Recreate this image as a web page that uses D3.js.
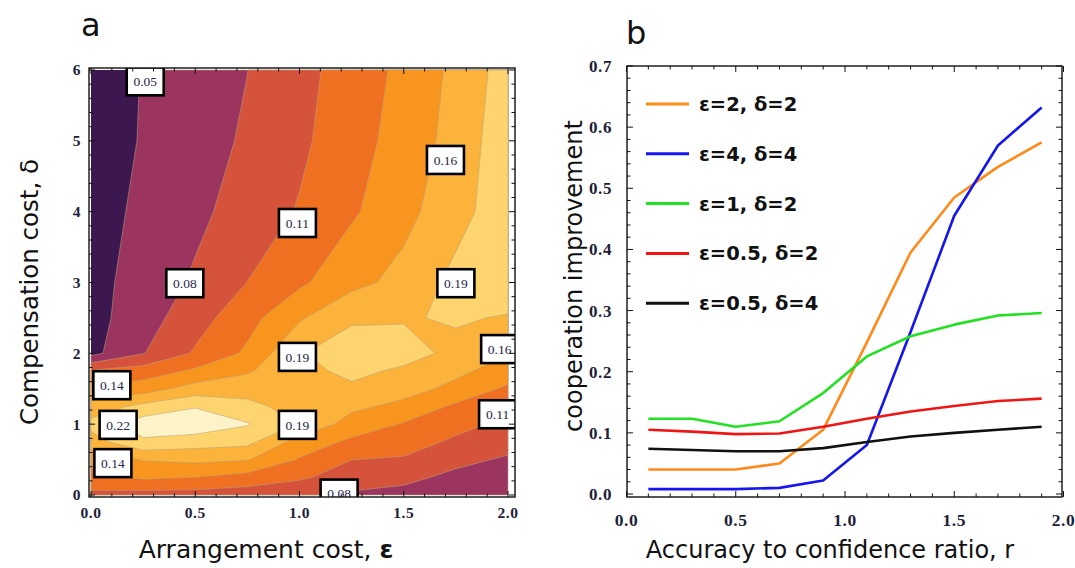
<!DOCTYPE html>
<html>
<head>
<meta charset="utf-8">
<script src="https://cdn.jsdelivr.net/npm/d3@7"></script>
<style>
  body { margin: 0; background: #fff; }
  svg { display: block; }
  .tick-label { font-family: 'Liberation Serif', 'DejaVu Serif', serif; font-weight: bold; fill: #1e1e3a; letter-spacing: 0.6px; }
  .title { font-family: 'DejaVu Sans', sans-serif; fill: #111; }
  .legend-text { font-family: 'DejaVu Sans', sans-serif; font-weight: bold; fill: #111; }
  .contour-label { font-family: 'Liberation Serif', serif; fill: #24244a; }
</style>
</head>
<body>
<svg id="chart" width="1075" height="568"></svg>
<script>
// panel a: grid of cooperation improvement over arrangement cost (cols) and compensation cost (rows)
const arrangementCosts = [0, 0.25, 0.5, 0.75, 1, 1.25, 1.5, 1.75, 2]
const compensationCosts = [0, 0.25, 0.5, 0.75, 1, 1.25, 1.5, 1.75, 2, 2.5, 3, 4, 5, 6]
const improvementGrid = [
  [0.100, 0.095, 0.095, 0.090, 0.080, 0.075, 0.070, 0.060, 0.065],
  [0.125, 0.140, 0.135, 0.125, 0.112, 0.090, 0.085, 0.072, 0.070],
  [0.145, 0.165, 0.170, 0.165, 0.133, 0.107, 0.104, 0.085, 0.075],
  [0.180, 0.215, 0.205, 0.200, 0.150, 0.130, 0.118, 0.102, 0.088],
  [0.200, 0.235, 0.240, 0.222, 0.190, 0.150, 0.133, 0.115, 0.100],
  [0.175, 0.200, 0.218, 0.200, 0.180, 0.170, 0.155, 0.130, 0.112],
  [0.140, 0.150, 0.175, 0.180, 0.180, 0.188, 0.175, 0.155, 0.130],
  [0.110, 0.120, 0.140, 0.160, 0.185, 0.197, 0.188, 0.170, 0.150],
  [0.042, 0.077, 0.110, 0.140, 0.190, 0.205, 0.200, 0.186, 0.164],
  [0.040, 0.066, 0.095, 0.125, 0.160, 0.188, 0.190, 0.194, 0.190],
  [0.040, 0.062, 0.082, 0.107, 0.130, 0.155, 0.172, 0.200, 0.205],
  [0.038, 0.056, 0.072, 0.090, 0.109, 0.131, 0.155, 0.181, 0.210],
  [0.035, 0.052, 0.067, 0.082, 0.101, 0.124, 0.146, 0.174, 0.210],
  [0.035, 0.051, 0.064, 0.078, 0.098, 0.119, 0.142, 0.170, 0.205]
]
const contourLevels = [0.05, 0.0783, 0.1067, 0.135, 0.1633, 0.1917, 0.22]
const bandColors = ['#3d1850', '#9b3560', '#d4533a', '#f07022', '#f7951e', '#fbb33c', '#fdd46e', '#fdf3c8']
const contourLabels = [
  { e: 0.26, d: 5.84, text: '0.05' },
  { e: 1.70, d: 4.73, text: '0.16' },
  { e: 0.99, d: 3.84, text: '0.11' },
  { e: 1.75, d: 2.99, text: '0.19' },
  { e: 0.45, d: 2.99, text: '0.08' },
  { e: 0.99, d: 1.95, text: '0.19' },
  { e: 1.96, d: 2.06, text: '0.16' },
  { e: 0.10, d: 1.55, text: '0.14' },
  { e: 0.13, d: 0.99, text: '0.22' },
  { e: 0.99, d: 0.99, text: '0.19' },
  { e: 1.95, d: 1.14, text: '0.11' },
  { e: 0.105, d: 0.45, text: '0.14' },
  { e: 1.19, d: 0.02, text: '0.08' }
]

// panel b: improvement against accuracy to confidence ratio
const ratios = [0.1, 0.3, 0.5, 0.7, 0.9, 1.1, 1.3, 1.5, 1.7, 1.9]
const eps2delta2 = [0.040, 0.040, 0.040, 0.050, 0.105, 0.248, 0.395, 0.485, 0.535, 0.575]
const eps4delta4 = [0.008, 0.008, 0.008, 0.010, 0.022, 0.080, 0.265, 0.455, 0.570, 0.632]
const eps1delta2 = [0.123, 0.123, 0.110, 0.119, 0.165, 0.225, 0.258, 0.277, 0.292, 0.296]
const eps05delta2 = [0.105, 0.102, 0.098, 0.099, 0.110, 0.123, 0.135, 0.144, 0.152, 0.156]
const eps05delta4 = [0.074, 0.072, 0.070, 0.070, 0.075, 0.085, 0.094, 0.100, 0.105, 0.110]
const seriesNames = ['ε=2, δ=2', 'ε=4, δ=4', 'ε=1, δ=2', 'ε=0.5, δ=2', 'ε=0.5, δ=4']
const seriesColors = ['#ff8a1a', '#1515f0', '#22e022', '#f01515', '#111111']

const svg = d3.select('#chart')

function drawTicks (g, scale, values, isMajor, side, pos) {
  values.forEach(v => {
    const len = isMajor(v) ? 6 : 3.5
    const p = scale(v)
    if (side === 'bottom') g.append('line').attr('x1', p).attr('x2', p).attr('y1', pos).attr('y2', pos - len)
    if (side === 'top') g.append('line').attr('x1', p).attr('x2', p).attr('y1', pos).attr('y2', pos + len)
    if (side === 'left') g.append('line').attr('y1', p).attr('y2', p).attr('x1', pos).attr('x2', pos + len)
    if (side === 'right') g.append('line').attr('y1', p).attr('y2', p).attr('x1', pos).attr('x2', pos - len)
  })
  g.attr('stroke', '#111').attr('stroke-width', 1)
}

function contourPanel () {
  const x = d3.scaleLinear().domain([0, 2]).range([91, 508])
  const y = d3.scaleLinear().domain([0, 6]).range([495, 70])
  const frame = { left: 89, right: 515, top: 68, bottom: 497 }
  const g = svg.append('g')
  svg.append('defs').append('clipPath').attr('id', 'clip-a')
    .append('rect')
    .attr('x', frame.left).attr('y', frame.top)
    .attr('width', frame.right - frame.left).attr('height', frame.bottom - frame.top)

  // grid index -> cost, sample i sits at i + 0.5 in contour space
  const epsIdx = d3.scaleLinear().domain(arrangementCosts.map((d, i) => i + 0.5)).range(arrangementCosts).clamp(true)
  const deltaIdx = d3.scaleLinear().domain(compensationCosts.map((d, i) => i + 0.5)).range(compensationCosts).clamp(true)
  const path = d3.geoPath(d3.geoTransform({
    point (px, py) { this.stream.point(x(epsIdx(px)), y(deltaIdx(py))) }
  }))
  const contours = d3.contours()
    .size([arrangementCosts.length, compensationCosts.length])
    .thresholds(contourLevels)(improvementGrid.flat())

  const plot = g.append('g').attr('clip-path', 'url(#clip-a)')
  plot.append('rect')
    .attr('x', x(0)).attr('y', y(6))
    .attr('width', x(2) - x(0)).attr('height', y(0) - y(6))
    .attr('fill', bandColors[0])
  plot.selectAll('path.band')
    .data(contours)
    .join('path')
    .attr('class', 'band')
    .attr('d', path)
    .attr('fill', (d, i) => bandColors[i + 1])
    .attr('stroke', 'rgba(185,160,125,0.6)')
    .attr('stroke-width', 0.9)

  const labels = plot.selectAll('g.clabel')
    .data(contourLabels)
    .join('g')
    .attr('class', 'clabel')
    .attr('transform', d => `translate(${x(d.e)}, ${y(d.d)})`)
  labels.append('rect')
    .attr('x', -18.5).attr('y', -14).attr('width', 37).attr('height', 28)
    .attr('fill', '#fff').attr('stroke', '#000').attr('stroke-width', 2.6)
  labels.append('text')
    .attr('class', 'contour-label')
    .attr('text-anchor', 'middle')
    .attr('dy', '0.35em')
    .attr('font-size', 13.5)
    .text(d => d.text)

  g.append('rect')
    .attr('x', frame.left).attr('y', frame.top)
    .attr('width', frame.right - frame.left).attr('height', frame.bottom - frame.top)
    .attr('fill', 'none').attr('stroke', '#111').attr('stroke-width', 1.4)
  const xt = d3.range(0, 2.001, 0.1)
  const yt = d3.range(0, 6.001, 0.2)
  const major5 = v => Math.abs(v * 2 - Math.round(v * 2)) < 1e-6
  const major1 = v => Math.abs(v - Math.round(v)) < 1e-6
  drawTicks(g.append('g'), x, xt, major5, 'bottom', frame.bottom)
  drawTicks(g.append('g'), x, xt, major5, 'top', frame.top)
  drawTicks(g.append('g'), y, yt, major1, 'left', frame.left)
  drawTicks(g.append('g'), y, yt, major1, 'right', frame.right)

  g.selectAll('text.xl')
    .data([0, 0.5, 1, 1.5, 2])
    .join('text')
    .attr('class', 'tick-label')
    .attr('x', d => x(d)).attr('y', 518)
    .attr('text-anchor', 'middle').attr('font-size', 15.5)
    .text(d3.format('.1f'))
  g.selectAll('text.yl')
    .data([0, 1, 2, 3, 4, 5, 6])
    .join('text')
    .attr('class', 'tick-label')
    .attr('x', 81).attr('y', d => y(d))
    .attr('dy', '0.35em')
    .attr('text-anchor', 'end').attr('font-size', 15.5)
    .text(d => d)

  const xTitle = g.append('text')
    .attr('class', 'title')
    .attr('x', 266).attr('y', 558)
    .attr('text-anchor', 'middle').attr('font-size', 25)
  xTitle.append('tspan').text('Arrangement cost, ')
  xTitle.append('tspan').attr('font-weight', 'bold').text('ε')
  g.append('text')
    .attr('class', 'title')
    .attr('transform', 'translate(38, 292) rotate(-90)')
    .attr('text-anchor', 'middle').attr('font-size', 24.5)
    .text('Compensation cost, δ')
  g.append('text')
    .attr('class', 'title')
    .attr('x', 81).attr('y', 36)
    .attr('font-size', 32)
    .text('a')
}

function linePanel () {
  const x = d3.scaleLinear().domain([0, 2]).range([626.5, 1063.5])
  const y = d3.scaleLinear().domain([0, 0.7]).range([494, 66])
  const frame = { left: 627, right: 1062, top: 66, bottom: 497 }
  const g = svg.append('g')
  const dataset = [eps2delta2, eps4delta4, eps1delta2, eps05delta2, eps05delta4]
  const line = d3.line()
    .x((d, i) => x(ratios[i]))
    .y(d => y(d))
  g.selectAll('path.series')
    .data(dataset)
    .join('path')
    .attr('class', 'series')
    .attr('d', line)
    .attr('fill', 'none')
    .attr('stroke', (d, i) => seriesColors[i])
    .attr('stroke-width', 2.6)
    .attr('stroke-linejoin', 'round')

  g.append('rect')
    .attr('x', frame.left).attr('y', frame.top)
    .attr('width', frame.right - frame.left).attr('height', frame.bottom - frame.top)
    .attr('fill', 'none').attr('stroke', '#111').attr('stroke-width', 1.4)
  const xt = d3.range(0, 2.001, 0.1)
  const yt = d3.range(0, 0.7001, 0.02)
  const major5 = v => Math.abs(v * 2 - Math.round(v * 2)) < 1e-6
  const major1 = v => Math.abs(v * 10 - Math.round(v * 10)) < 1e-6
  drawTicks(g.append('g'), x, xt, major5, 'bottom', frame.bottom)
  drawTicks(g.append('g'), x, xt, major5, 'top', frame.top)
  drawTicks(g.append('g'), y, yt, major1, 'left', frame.left)
  drawTicks(g.append('g'), y, yt, major1, 'right', frame.right)

  g.selectAll('text.xl')
    .data([0, 0.5, 1, 1.5, 2])
    .join('text')
    .attr('class', 'tick-label')
    .attr('x', d => x(d)).attr('y', 526)
    .attr('text-anchor', 'middle').attr('font-size', 17.5)
    .text(d3.format('.1f'))
  g.selectAll('text.yl')
    .data([0, 0.1, 0.2, 0.3, 0.4, 0.5, 0.6, 0.7])
    .join('text')
    .attr('class', 'tick-label')
    .attr('x', 612).attr('y', d => y(d))
    .attr('dy', '0.35em')
    .attr('text-anchor', 'end').attr('font-size', 17)
    .text(d3.format('.1f'))

  const legend = g.selectAll('g.legend')
    .data(seriesNames)
    .join('g')
    .attr('class', 'legend')
    .attr('transform', (d, i) => `translate(646, ${104 + i * 49.8})`)
  legend.append('line')
    .attr('x1', 0).attr('x2', 43)
    .attr('stroke', (d, i) => seriesColors[i])
    .attr('stroke-width', 3)
  legend.append('text')
    .attr('class', 'legend-text')
    .attr('x', 53).attr('dy', '0.36em')
    .attr('font-size', 19.5)
    .text(d => d)

  g.append('text')
    .attr('class', 'title')
    .attr('x', 830).attr('y', 558)
    .attr('text-anchor', 'middle').attr('font-size', 24)
    .text('Accuracy to confidence ratio, r')
  g.append('text')
    .attr('class', 'title')
    .attr('transform', 'translate(582, 276) rotate(-90)')
    .attr('text-anchor', 'middle').attr('font-size', 24)
    .text('cooperation improvement')
  g.append('text')
    .attr('class', 'title')
    .attr('x', 626).attr('y', 44)
    .attr('font-size', 32)
    .text('b')
}

contourPanel()
linePanel()
</script>
</body>
</html>
